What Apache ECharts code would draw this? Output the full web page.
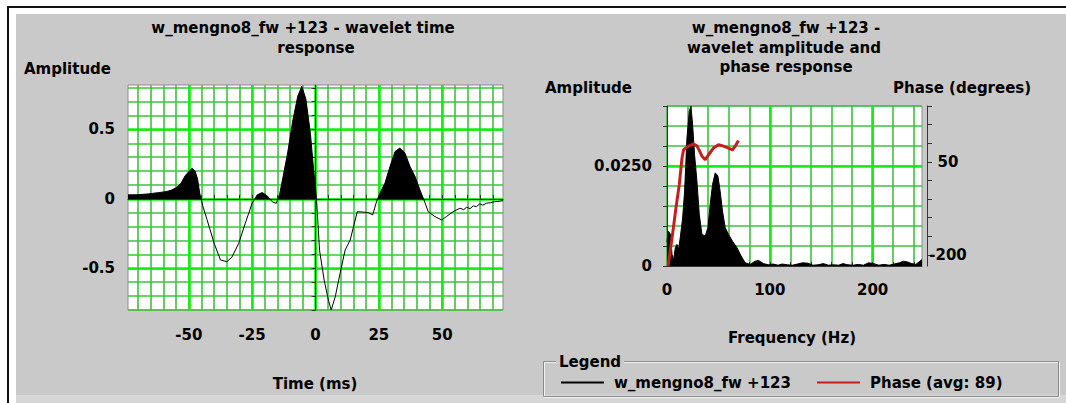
<!DOCTYPE html>
<html>
<head>
<meta charset="utf-8">
<script src="https://cdn.jsdelivr.net/npm/echarts@6/dist/echarts.min.js"></script>
<style>
html,body{margin:0;padding:0;background:#fff;}
#wrap{position:relative;width:1066px;height:403px;overflow:hidden;background:#fff;}
#frameTop{position:absolute;left:7px;top:6px;width:1059px;height:2px;background:#111;}
#frameLeft{position:absolute;left:7px;top:6px;width:2px;height:397px;background:#111;}
#panel{position:absolute;left:16px;top:14px;width:1050px;height:381px;background:#c9c9c9;}
#strip{position:absolute;left:16px;top:395px;width:1050px;height:8px;background:#d6d6d6;}
#chart{position:absolute;left:0;top:0;width:1066px;height:403px;}
</style>
</head>
<body>
<div id="wrap">
  <div id="frameTop"></div>
  <div id="frameLeft"></div>
  <div id="panel"></div>
  <div id="strip"></div>
  <div id="chart"></div>
</div>
<script>
// ---------- data ----------
const timeMs = [-74,-70,-66,-62,-59,-57,-55,-53,-51.5,-50,-48.7,-47.5,-46.5,-45.7,-44.5,-42.8,-40,-37.5,-35,-33,-30.3,-27.7,-25,-23,-21,-19,-17,-15.5,-14.2,-12.8,-11,-9,-7,-5.4,-3.8,-2,-0.7,0.4,1.6,3.4,5.1,6.2,7.8,9.7,11.7,13.7,15,16.5,18.9,20.9,22.6,23.9,25.1,27.4,29.4,31.4,33.3,35.3,37.3,39.3,41.2,42.8,44.5,47.1,49.8,51.7,54.3,57,58.5,59.6,61,62.3,63.5,64.8,66,67.5,69,70.7,72.5,74];
const timeAmp = [0.029,0.030,0.036,0.045,0.052,0.062,0.080,0.115,0.165,0.197,0.220,0.200,0.140,0.040,-0.050,-0.150,-0.320,-0.440,-0.452,-0.420,-0.320,-0.175,-0.031,0.029,0.046,0.020,-0.022,-0.032,0.030,0.160,0.330,0.560,0.740,0.810,0.720,0.470,0.200,0.000,-0.370,-0.584,-0.730,-0.800,-0.705,-0.536,-0.368,-0.296,-0.200,-0.092,-0.095,-0.100,-0.115,-0.031,0.029,0.113,0.233,0.341,0.366,0.330,0.233,0.161,0.065,-0.007,-0.092,-0.127,-0.152,-0.127,-0.092,-0.067,-0.078,-0.060,-0.070,-0.050,-0.056,-0.036,-0.045,-0.031,-0.028,-0.020,-0.018,-0.012];

const freqHz = [0,1,3.2,4.9,6.4,8.1,9.7,11.3,12.9,15.2,17.1,19.4,21.7,23.3,24.9,26.8,29.1,31.4,34,37.2,39.8,42,44.3,46.9,49.5,51.7,54,56.6,59.8,63.7,68,72.1,76,80.9,85.7,89,93.8,98.6,103,108,112,117,122,127,132,137,142,147,152,157,162,167,171,176,181,186,191,196,201,206,211,216,221,226,230,234,238,242,246,248];
const freqAmp = [0.0060,0.0088,0.0080,0.0029,0.0015,0.0046,0.0054,0.0042,0.0071,0.0120,0.0187,0.0320,0.0387,0.0400,0.0354,0.0279,0.0212,0.0129,0.0079,0.0075,0.0096,0.0154,0.0204,0.0233,0.0225,0.0187,0.0137,0.0096,0.0079,0.0062,0.0046,0.0025,0.0008,0.0004,0.0012,0.0014,0.0006,0.0003,0.0005,0.0002,0.0005,0.0003,0.0002,0.0005,0.0008,0.0007,0.0002,0.0003,0.0006,0.0002,0.0003,0.0002,0.0006,0.0003,0.0002,0.0004,0.0002,0.0008,0.0006,0.0002,0.0004,0.0002,0.0005,0.0008,0.0012,0.0010,0.0006,0.0004,0.0012,0.0016];

const phaseHz  = [1,4.9,8.7,11.9,14.6,16.1,18.5,21,23.5,25.8,29.1,31.5,34,37.2,40.4,45.2,50.1,55,59.8,63.7,66.3,69.5];
const phaseDeg = [-230,-155,-74,-12,60,82,88,92,95,98,93,80,65,56,69,87,96,92,87,82,92,107];

// tick positions
const timeLabelTicks = [-50,-25,0,25,50];
const timeMinorTicks = [-70,-65,-60,-55,-50,-45,-40,-35,-30,-25,-20,-15,-10,-5,0,5,10,15,20,25,30,35,40,45,50,55,60,65,70];
const ampLabelTicks = [-0.5,0,0.5];
const ampMinorTicks = [-0.8,-0.7,-0.6,-0.5,-0.4,-0.3,-0.2,-0.1,0,0.1,0.2,0.3,0.4,0.5,0.6,0.7,0.8];
const freqLabelTicks = [0,100,200];
const freqMajorLines = [100,200];
const freqMinorTicks = [0,20,40,60,80,100,120,140,160,180,200,220,240];
const specLabelTicks = [0,0.025];
const specMajorLines = [0.025];
const specMinorTicks = [0,0.005,0.01,0.015,0.02,0.025,0.03,0.035,0.04];
const phaseLabelTicks = [-200,50];
const phaseMinorTicks = [-200,-150,-100,-50,0,50,100,150,200];

const seriesName = 'w_mengno8_fw +123';
const phaseName = 'Phase (avg: 89)';

// ---------- styling / layout ----------
const FONT = 'DejaVu Sans';
const labelStyle = {fontFamily: FONT, fontWeight: 'bold', fontSize: 15, color: '#000'};
const minorLine = {show: true, lineStyle: {color: '#3cc33c', width: 1.6}};
const majorLine = {show: true, lineStyle: {color: '#10f010', width: 2.6}};
const axisDark = {show: true, lineStyle: {color: '#333', width: 1}};

const G0 = {left: 128, top: 85, width: 375, height: 225};
const G1 = {left: 667, top: 106, width: 255, height: 160};
const T_MIN = -74, T_MAX = 74, A_MIN = -0.8, A_MAX = 0.82;

function pairs(xs, ys) { return xs.map((x, i) => [x, ys[i]]); }

function hiddenAxis(base, customValues) {
  return Object.assign({
    type: 'value', show: true,
    axisLine: {show: false},
    axisTick: {show: false, customValues: customValues},
    axisLabel: {show: false},
    splitLine: majorLine
  }, base);
}

function txt(text, x, y, align) {
  return {
    type: 'text', x: x, y: y, silent: true,
    style: {
      text: text, fill: '#000', fontFamily: FONT, fontWeight: 'bold', fontSize: 15,
      textAlign: align || 'center', align: align || 'center',
      textVerticalAlign: 'middle', verticalAlign: 'middle'
    }
  };
}

// fill above zero only: black above the zero level, transparent below (global gradient over the grid)
const zeroFrac = A_MAX / (A_MAX - A_MIN);
const posFill = new echarts.graphic.LinearGradient(0, G0.top, 0, G0.top + G0.height, [
  {offset: 0, color: '#000'},
  {offset: zeroFrac, color: '#000'},
  {offset: zeroFrac, color: 'rgba(0,0,0,0)'},
  {offset: 1, color: 'rgba(0,0,0,0)'}
], true);

const chart = echarts.init(document.getElementById('chart'), null, {renderer: 'svg', width: 1066, height: 403});

const gridStyle = {show: true, backgroundColor: '#fff', borderColor: '#8c8c8c', borderWidth: 1};

const option = {
  backgroundColor: 'transparent',
  animation: false,
  grid: [Object.assign({}, G0, gridStyle), Object.assign({}, G1, gridStyle)],
  xAxis: [
    {
      type: 'value', gridIndex: 0, min: T_MIN, max: T_MAX, position: 'bottom', offset: 7,
      axisLine: axisDark,
      axisTick: {show: true, inside: true, length: 4, customValues: timeMinorTicks, lineStyle: {color: '#333'}},
      axisLabel: Object.assign({customValues: timeLabelTicks, margin: 10}, labelStyle),
      splitLine: minorLine
    },
    hiddenAxis({gridIndex: 0, min: T_MIN, max: T_MAX, position: 'top'}, timeLabelTicks),
    {
      type: 'value', gridIndex: 1, min: 0, max: 248, position: 'bottom', offset: 6,
      axisLine: axisDark,
      axisTick: {show: true, inside: true, length: 4, customValues: freqMinorTicks, lineStyle: {color: '#333'}},
      axisLabel: Object.assign({customValues: freqLabelTicks, margin: 10}, labelStyle),
      splitLine: minorLine
    },
    hiddenAxis({gridIndex: 1, min: 0, max: 248, position: 'top'}, freqMajorLines)
  ],
  yAxis: [
    {
      type: 'value', gridIndex: 0, min: A_MIN, max: A_MAX, position: 'left', offset: 3,
      axisLine: axisDark,
      axisTick: {show: true, inside: false, length: 4, customValues: ampMinorTicks, lineStyle: {color: '#333'}},
      axisLabel: Object.assign({customValues: ampLabelTicks, margin: 10}, labelStyle),
      splitLine: minorLine
    },
    hiddenAxis({gridIndex: 0, min: A_MIN, max: A_MAX, position: 'right'}, ampLabelTicks),
    {
      type: 'value', gridIndex: 1, min: 0, max: 0.04, position: 'left', offset: 3,
      axisLine: axisDark,
      axisTick: {show: true, inside: false, length: 4, customValues: specMinorTicks, lineStyle: {color: '#333'}},
      axisLabel: Object.assign({customValues: specLabelTicks, margin: 12,
        formatter: v => (v === 0 ? '0' : v.toFixed(4))}, labelStyle),
      splitLine: minorLine
    },
    hiddenAxis({gridIndex: 1, min: 0, max: 0.04, position: 'left'}, specMajorLines),
    {
      type: 'value', gridIndex: 1, min: -230, max: 200, position: 'right', offset: 5,
      axisLine: axisDark,
      axisTick: {show: true, inside: false, length: 5, customValues: phaseMinorTicks, lineStyle: {color: '#333'}},
      axisLabel: Object.assign({customValues: phaseLabelTicks, margin: 21, align: 'center'}, labelStyle),
      splitLine: {show: false}
    }
  ],
  legend: {
    left: 560, top: 375, padding: 0, itemWidth: 43, itemHeight: 14, itemGap: 25,
    itemStyle: {opacity: 0},
    textStyle: {fontFamily: FONT, fontWeight: 'bold', fontSize: 15, color: '#000', padding: [0, 0, 0, 5]},
    data: [seriesName, phaseName]
  },
  series: [
    {
      name: seriesName, type: 'line', xAxisIndex: 0, yAxisIndex: 0, z: 4,
      data: pairs(timeMs, timeAmp), symbol: 'none', showSymbol: false,
      lineStyle: {color: '#000', width: 1}, itemStyle: {color: '#000'}
    },
    {
      name: seriesName, type: 'line', xAxisIndex: 0, yAxisIndex: 0, z: 3,
      data: pairs(timeMs, timeAmp), symbol: 'none', showSymbol: false,
      lineStyle: {color: '#000', width: 0, opacity: 0}, itemStyle: {color: '#000'},
      areaStyle: {color: posFill, opacity: 1, origin: 0}
    },
    {
      name: seriesName, type: 'line', xAxisIndex: 2, yAxisIndex: 2, z: 3,
      data: pairs(freqHz, freqAmp), symbol: 'none', showSymbol: false,
      lineStyle: {color: '#000', width: 1}, itemStyle: {color: '#000'},
      areaStyle: {color: '#000', opacity: 1}
    },
    {
      name: phaseName, type: 'line', xAxisIndex: 2, yAxisIndex: 4, z: 5,
      data: pairs(phaseHz, phaseDeg), symbol: 'none', showSymbol: false,
      lineStyle: {color: '#c41e1e', width: 3}, itemStyle: {color: '#c41e1e'}
    }
  ],
  graphic: [
    txt('w_mengno8_fw +123 - wavelet time', 303, 28),
    txt('response', 316, 48),
    txt('Amplitude', 24, 69, 'left'),
    txt('Time (ms)', 315, 384),
    txt('w_mengno8_fw +123 -', 786, 28),
    txt('wavelet amplitude and', 784, 48),
    txt('phase response', 786, 67),
    txt('Amplitude', 545, 88, 'left'),
    txt('Phase (degrees)', 893, 88, 'left'),
    txt('Frequency (Hz)', 792, 338),
    {
      type: 'rect', silent: true, z: -1,
      shape: {x: 544.5, y: 362.5, width: 515, height: 35},
      style: {fill: 'none', stroke: '#f2f2f2', lineWidth: 1}
    },
    {
      type: 'rect', silent: true, z: 0,
      shape: {x: 543.5, y: 361.5, width: 515, height: 35},
      style: {fill: 'none', stroke: '#8a8a8a', lineWidth: 1}
    },
    {
      type: 'text', x: 556, y: 362, silent: true, z: 1,
      style: {
        text: 'Legend', fill: '#000', fontFamily: FONT, fontWeight: 'bold', fontSize: 15,
        textAlign: 'left', align: 'left', textVerticalAlign: 'middle', verticalAlign: 'middle',
        backgroundColor: '#c9c9c9', padding: [0, 3, 0, 3]
      }
    }
  ]
};
chart.setOption(option);
</script>
</body>
</html>
